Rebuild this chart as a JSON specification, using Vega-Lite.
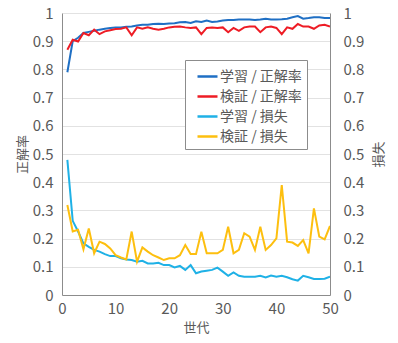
{
  "$schema": "https://vega.github.io/schema/vega-lite/v6.json",
  "width": 268,
  "height": 282,
  "autosize": "none",
  "padding": {"left": 62, "top": 13, "right": 68, "bottom": 48},
  "background": "white",
  "config": {
    "font": "Noto Sans CJK JP",
    "view": {"stroke": null},
    "axis": {"labelFont": "Noto Sans CJK JP", "titleFont": "Noto Sans CJK JP", "labelColor": "#595959", "titleColor": "#595959", "labelFontSize": 15, "titleFontSize": 13, "titleFontWeight": "normal", "ticks": false, "domainColor": "#8c8c8c", "gridColor": "#e2e2e2"}
  },
  "datasets": {
    "acc": [
      {"epoch": 1, "series": "学習 / 正解率", "value": 0.79}, {"epoch": 2, "series": "学習 / 正解率", "value": 0.90}, {"epoch": 3, "series": "学習 / 正解率", "value": 0.912}, {"epoch": 4, "series": "学習 / 正解率", "value": 0.929}, {"epoch": 5, "series": "学習 / 正解率", "value": 0.933}, {"epoch": 6, "series": "学習 / 正解率", "value": 0.937}, {"epoch": 7, "series": "学習 / 正解率", "value": 0.941}, {"epoch": 8, "series": "学習 / 正解率", "value": 0.944}, {"epoch": 9, "series": "学習 / 正解率", "value": 0.947}, {"epoch": 10, "series": "学習 / 正解率", "value": 0.949},
      {"epoch": 11, "series": "学習 / 正解率", "value": 0.949}, {"epoch": 12, "series": "学習 / 正解率", "value": 0.951}, {"epoch": 13, "series": "学習 / 正解率", "value": 0.952}, {"epoch": 14, "series": "学習 / 正解率", "value": 0.956}, {"epoch": 15, "series": "学習 / 正解率", "value": 0.958}, {"epoch": 16, "series": "学習 / 正解率", "value": 0.958}, {"epoch": 17, "series": "学習 / 正解率", "value": 0.961}, {"epoch": 18, "series": "学習 / 正解率", "value": 0.962}, {"epoch": 19, "series": "学習 / 正解率", "value": 0.961}, {"epoch": 20, "series": "学習 / 正解率", "value": 0.963},
      {"epoch": 21, "series": "学習 / 正解率", "value": 0.964}, {"epoch": 22, "series": "学習 / 正解率", "value": 0.967}, {"epoch": 23, "series": "学習 / 正解率", "value": 0.968}, {"epoch": 24, "series": "学習 / 正解率", "value": 0.965}, {"epoch": 25, "series": "学習 / 正解率", "value": 0.971}, {"epoch": 26, "series": "学習 / 正解率", "value": 0.968}, {"epoch": 27, "series": "学習 / 正解率", "value": 0.973}, {"epoch": 28, "series": "学習 / 正解率", "value": 0.968}, {"epoch": 29, "series": "学習 / 正解率", "value": 0.970}, {"epoch": 30, "series": "学習 / 正解率", "value": 0.973},
      {"epoch": 31, "series": "学習 / 正解率", "value": 0.975}, {"epoch": 32, "series": "学習 / 正解率", "value": 0.975}, {"epoch": 33, "series": "学習 / 正解率", "value": 0.977}, {"epoch": 34, "series": "学習 / 正解率", "value": 0.977}, {"epoch": 35, "series": "学習 / 正解率", "value": 0.977}, {"epoch": 36, "series": "学習 / 正解率", "value": 0.975}, {"epoch": 37, "series": "学習 / 正解率", "value": 0.977}, {"epoch": 38, "series": "学習 / 正解率", "value": 0.980}, {"epoch": 39, "series": "学習 / 正解率", "value": 0.977}, {"epoch": 40, "series": "学習 / 正解率", "value": 0.977},
      {"epoch": 41, "series": "学習 / 正解率", "value": 0.978}, {"epoch": 42, "series": "学習 / 正解率", "value": 0.980}, {"epoch": 43, "series": "学習 / 正解率", "value": 0.985}, {"epoch": 44, "series": "学習 / 正解率", "value": 0.989}, {"epoch": 45, "series": "学習 / 正解率", "value": 0.980}, {"epoch": 46, "series": "学習 / 正解率", "value": 0.982}, {"epoch": 47, "series": "学習 / 正解率", "value": 0.985}, {"epoch": 48, "series": "学習 / 正解率", "value": 0.985}, {"epoch": 49, "series": "学習 / 正解率", "value": 0.982}, {"epoch": 50, "series": "学習 / 正解率", "value": 0.982},
      {"epoch": 1, "series": "検証 / 正解率", "value": 0.870}, {"epoch": 2, "series": "検証 / 正解率", "value": 0.905}, {"epoch": 3, "series": "検証 / 正解率", "value": 0.899}, {"epoch": 4, "series": "検証 / 正解率", "value": 0.929}, {"epoch": 5, "series": "検証 / 正解率", "value": 0.921}, {"epoch": 6, "series": "検証 / 正解率", "value": 0.941}, {"epoch": 7, "series": "検証 / 正解率", "value": 0.925}, {"epoch": 8, "series": "検証 / 正解率", "value": 0.935}, {"epoch": 9, "series": "検証 / 正解率", "value": 0.939}, {"epoch": 10, "series": "検証 / 正解率", "value": 0.943},
      {"epoch": 11, "series": "検証 / 正解率", "value": 0.944}, {"epoch": 12, "series": "検証 / 正解率", "value": 0.949}, {"epoch": 13, "series": "検証 / 正解率", "value": 0.921}, {"epoch": 14, "series": "検証 / 正解率", "value": 0.949}, {"epoch": 15, "series": "検証 / 正解率", "value": 0.944}, {"epoch": 16, "series": "検証 / 正解率", "value": 0.949}, {"epoch": 17, "series": "検証 / 正解率", "value": 0.944}, {"epoch": 18, "series": "検証 / 正解率", "value": 0.941}, {"epoch": 19, "series": "検証 / 正解率", "value": 0.944}, {"epoch": 20, "series": "検証 / 正解率", "value": 0.949},
      {"epoch": 21, "series": "検証 / 正解率", "value": 0.951}, {"epoch": 22, "series": "検証 / 正解率", "value": 0.952}, {"epoch": 23, "series": "検証 / 正解率", "value": 0.949}, {"epoch": 24, "series": "検証 / 正解率", "value": 0.947}, {"epoch": 25, "series": "検証 / 正解率", "value": 0.949}, {"epoch": 26, "series": "検証 / 正解率", "value": 0.925}, {"epoch": 27, "series": "検証 / 正解率", "value": 0.947}, {"epoch": 28, "series": "検証 / 正解率", "value": 0.949}, {"epoch": 29, "series": "検証 / 正解率", "value": 0.947}, {"epoch": 30, "series": "検証 / 正解率", "value": 0.949},
      {"epoch": 31, "series": "検証 / 正解率", "value": 0.932}, {"epoch": 32, "series": "検証 / 正解率", "value": 0.947}, {"epoch": 33, "series": "検証 / 正解率", "value": 0.937}, {"epoch": 34, "series": "検証 / 正解率", "value": 0.949}, {"epoch": 35, "series": "検証 / 正解率", "value": 0.952}, {"epoch": 36, "series": "検証 / 正解率", "value": 0.952}, {"epoch": 37, "series": "検証 / 正解率", "value": 0.932}, {"epoch": 38, "series": "検証 / 正解率", "value": 0.949}, {"epoch": 39, "series": "検証 / 正解率", "value": 0.952}, {"epoch": 40, "series": "検証 / 正解率", "value": 0.947},
      {"epoch": 41, "series": "検証 / 正解率", "value": 0.925}, {"epoch": 42, "series": "検証 / 正解率", "value": 0.949}, {"epoch": 43, "series": "検証 / 正解率", "value": 0.944}, {"epoch": 44, "series": "検証 / 正解率", "value": 0.961}, {"epoch": 45, "series": "検証 / 正解率", "value": 0.952}, {"epoch": 46, "series": "検証 / 正解率", "value": 0.952}, {"epoch": 47, "series": "検証 / 正解率", "value": 0.944}, {"epoch": 48, "series": "検証 / 正解率", "value": 0.956}, {"epoch": 49, "series": "検証 / 正解率", "value": 0.958}, {"epoch": 50, "series": "検証 / 正解率", "value": 0.952}
    ],
    "loss": [
      {"epoch": 1, "series": "学習 / 損失", "value": 0.479}, {"epoch": 2, "series": "学習 / 損失", "value": 0.263}, {"epoch": 3, "series": "学習 / 損失", "value": 0.225}, {"epoch": 4, "series": "学習 / 損失", "value": 0.183}, {"epoch": 5, "series": "学習 / 損失", "value": 0.171}, {"epoch": 6, "series": "学習 / 損失", "value": 0.160}, {"epoch": 7, "series": "学習 / 損失", "value": 0.154}, {"epoch": 8, "series": "学習 / 損失", "value": 0.145}, {"epoch": 9, "series": "学習 / 損失", "value": 0.138}, {"epoch": 10, "series": "学習 / 損失", "value": 0.138},
      {"epoch": 11, "series": "学習 / 損失", "value": 0.130}, {"epoch": 12, "series": "学習 / 損失", "value": 0.126}, {"epoch": 13, "series": "学習 / 損失", "value": 0.124}, {"epoch": 14, "series": "学習 / 損失", "value": 0.118}, {"epoch": 15, "series": "学習 / 損失", "value": 0.121}, {"epoch": 16, "series": "学習 / 損失", "value": 0.112}, {"epoch": 17, "series": "学習 / 損失", "value": 0.112}, {"epoch": 18, "series": "学習 / 損失", "value": 0.114}, {"epoch": 19, "series": "学習 / 損失", "value": 0.106}, {"epoch": 20, "series": "学習 / 損失", "value": 0.106},
      {"epoch": 21, "series": "学習 / 損失", "value": 0.098}, {"epoch": 22, "series": "学習 / 損失", "value": 0.103}, {"epoch": 23, "series": "学習 / 損失", "value": 0.089}, {"epoch": 24, "series": "学習 / 損失", "value": 0.106}, {"epoch": 25, "series": "学習 / 損失", "value": 0.077}, {"epoch": 26, "series": "学習 / 損失", "value": 0.083}, {"epoch": 27, "series": "学習 / 損失", "value": 0.086}, {"epoch": 28, "series": "学習 / 損失", "value": 0.089}, {"epoch": 29, "series": "学習 / 損失", "value": 0.097}, {"epoch": 30, "series": "学習 / 損失", "value": 0.083},
      {"epoch": 31, "series": "学習 / 損失", "value": 0.068}, {"epoch": 32, "series": "学習 / 損失", "value": 0.080}, {"epoch": 33, "series": "学習 / 損失", "value": 0.068}, {"epoch": 34, "series": "学習 / 損失", "value": 0.065}, {"epoch": 35, "series": "学習 / 損失", "value": 0.065}, {"epoch": 36, "series": "学習 / 損失", "value": 0.065}, {"epoch": 37, "series": "学習 / 損失", "value": 0.068}, {"epoch": 38, "series": "学習 / 損失", "value": 0.062}, {"epoch": 39, "series": "学習 / 損失", "value": 0.069}, {"epoch": 40, "series": "学習 / 損失", "value": 0.065},
      {"epoch": 41, "series": "学習 / 損失", "value": 0.068}, {"epoch": 42, "series": "学習 / 損失", "value": 0.063}, {"epoch": 43, "series": "学習 / 損失", "value": 0.056}, {"epoch": 44, "series": "学習 / 損失", "value": 0.051}, {"epoch": 45, "series": "学習 / 損失", "value": 0.068}, {"epoch": 46, "series": "学習 / 損失", "value": 0.063}, {"epoch": 47, "series": "学習 / 損失", "value": 0.057}, {"epoch": 48, "series": "学習 / 損失", "value": 0.057}, {"epoch": 49, "series": "学習 / 損失", "value": 0.058}, {"epoch": 50, "series": "学習 / 損失", "value": 0.065},
      {"epoch": 1, "series": "検証 / 損失", "value": 0.319}, {"epoch": 2, "series": "検証 / 損失", "value": 0.225}, {"epoch": 3, "series": "検証 / 損失", "value": 0.231}, {"epoch": 4, "series": "検証 / 損失", "value": 0.162}, {"epoch": 5, "series": "検証 / 損失", "value": 0.236}, {"epoch": 6, "series": "検証 / 損失", "value": 0.148}, {"epoch": 7, "series": "検証 / 損失", "value": 0.189}, {"epoch": 8, "series": "検証 / 損失", "value": 0.181}, {"epoch": 9, "series": "検証 / 損失", "value": 0.165}, {"epoch": 10, "series": "検証 / 損失", "value": 0.141},
      {"epoch": 11, "series": "検証 / 損失", "value": 0.133}, {"epoch": 12, "series": "検証 / 損失", "value": 0.126}, {"epoch": 13, "series": "検証 / 損失", "value": 0.225}, {"epoch": 14, "series": "検証 / 損失", "value": 0.118}, {"epoch": 15, "series": "検証 / 損失", "value": 0.169}, {"epoch": 16, "series": "検証 / 損失", "value": 0.154}, {"epoch": 17, "series": "検証 / 損失", "value": 0.141}, {"epoch": 18, "series": "検証 / 損失", "value": 0.133}, {"epoch": 19, "series": "検証 / 損失", "value": 0.124}, {"epoch": 20, "series": "検証 / 損失", "value": 0.130},
      {"epoch": 21, "series": "検証 / 損失", "value": 0.130}, {"epoch": 22, "series": "検証 / 損失", "value": 0.141}, {"epoch": 23, "series": "検証 / 損失", "value": 0.177}, {"epoch": 24, "series": "検証 / 損失", "value": 0.145}, {"epoch": 25, "series": "検証 / 損失", "value": 0.145}, {"epoch": 26, "series": "検証 / 損失", "value": 0.224}, {"epoch": 27, "series": "検証 / 損失", "value": 0.148}, {"epoch": 28, "series": "検証 / 損失", "value": 0.148}, {"epoch": 29, "series": "検証 / 損失", "value": 0.148}, {"epoch": 30, "series": "検証 / 損失", "value": 0.160},
      {"epoch": 31, "series": "検証 / 損失", "value": 0.242}, {"epoch": 32, "series": "検証 / 損失", "value": 0.148}, {"epoch": 33, "series": "検証 / 損失", "value": 0.160}, {"epoch": 34, "series": "検証 / 損失", "value": 0.219}, {"epoch": 35, "series": "検証 / 損失", "value": 0.207}, {"epoch": 36, "series": "検証 / 損失", "value": 0.160}, {"epoch": 37, "series": "検証 / 損失", "value": 0.242}, {"epoch": 38, "series": "検証 / 損失", "value": 0.160}, {"epoch": 39, "series": "検証 / 損失", "value": 0.177}, {"epoch": 40, "series": "検証 / 損失", "value": 0.201},
      {"epoch": 41, "series": "検証 / 損失", "value": 0.390}, {"epoch": 42, "series": "検証 / 損失", "value": 0.189}, {"epoch": 43, "series": "検証 / 損失", "value": 0.186}, {"epoch": 44, "series": "検証 / 損失", "value": 0.174}, {"epoch": 45, "series": "検証 / 損失", "value": 0.195}, {"epoch": 46, "series": "検証 / 損失", "value": 0.148}, {"epoch": 47, "series": "検証 / 損失", "value": 0.307}, {"epoch": 48, "series": "検証 / 損失", "value": 0.207}, {"epoch": 49, "series": "検証 / 損失", "value": 0.197}, {"epoch": 50, "series": "検証 / 損失", "value": 0.245}
    ]
  },
  "encoding": {
    "x": {"field": "epoch", "type": "quantitative", "title": "世代", "scale": {"domain": [0, 50], "nice": false}, "axis": {"values": [0, 10, 20, 30, 40, 50], "grid": false, "labelPadding": 6, "titlePadding": 5, "labelFlush": false}},
    "color": {"field": "series", "type": "nominal", "sort": ["学習 / 正解率", "検証 / 正解率", "学習 / 損失", "検証 / 損失"],
      "scale": {"domain": ["学習 / 正解率", "検証 / 正解率", "学習 / 損失", "検証 / 損失"], "range": ["#1f6fc4", "#ee1c25", "#1fb1e6", "#fdbf0f"]},
      "legend": {"title": null, "orient": "none", "legendX": 123, "legendY": 47, "direction": "vertical", "symbolType": "stroke", "symbolSize": 400, "symbolStrokeWidth": 2.5, "symbolOffset": 6, "labelFontSize": 14, "labelColor": "#595959", "labelFont": "Noto Sans CJK JP", "strokeColor": "#8c8c8c", "fillColor": "white", "padding": 5, "rowPadding": 1, "labelOffset": 1, "offset": 0}}
  },
  "layer": [
    {
      "data": {"name": "acc"},
      "mark": {"type": "line", "strokeWidth": 2, "clip": true},
      "encoding": {
        "y": {"field": "value", "type": "quantitative", "title": "正解率", "scale": {"domain": [0, 1], "nice": false}, "axis": {"orient": "left", "values": [0, 0.1, 0.2, 0.3, 0.4, 0.5, 0.6, 0.7, 0.8, 0.9, 1], "format": "~g", "labelPadding": 9, "titlePadding": 3, "grid": true, "labelFlush": false}}
      }
    },
    {
      "data": {"name": "loss"},
      "mark": {"type": "line", "strokeWidth": 2, "clip": true},
      "encoding": {
        "y": {"field": "value", "type": "quantitative", "title": "損失", "scale": {"domain": [0, 1], "nice": false}, "axis": {"orient": "right", "values": [0, 0.1, 0.2, 0.3, 0.4, 0.5, 0.6, 0.7, 0.8, 0.9, 1], "format": "~g", "labelPadding": 13, "titlePadding": 9, "titleAngle": -90, "titleBaseline": "top", "grid": false, "labelFlush": false}}
      }
    }
  ],
  "resolve": {"scale": {"y": "independent"}}
}
